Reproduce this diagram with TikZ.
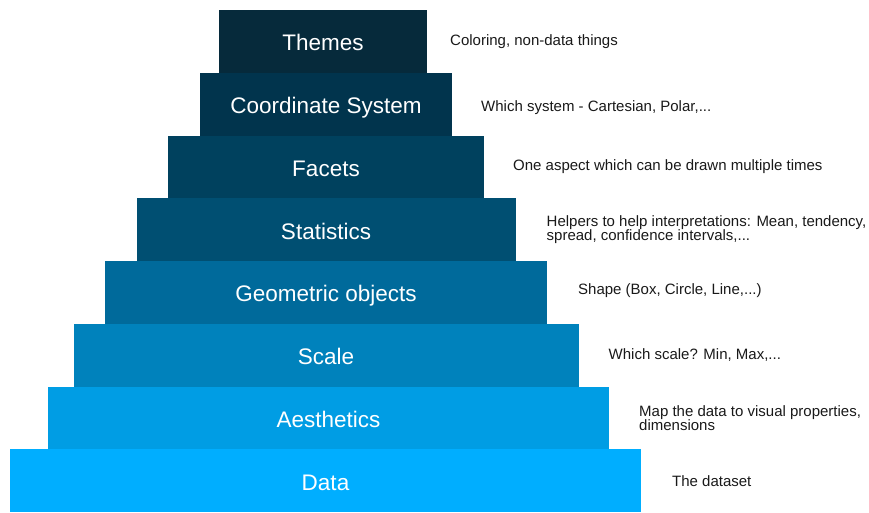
\documentclass[tikz,border=0pt]{standalone}
\usepackage{fontspec}
\setmainfont{Liberation Sans}
\usetikzlibrary{positioning}
\definecolor{themesblue}{HTML}{062A3B}
\definecolor{coordblue}{HTML}{01344D}
\definecolor{facetblue}{HTML}{00415E}
\definecolor{statblue}{HTML}{004F72}
\definecolor{geomblue}{HTML}{006A9B}
\definecolor{scaleblue}{HTML}{0082BC}
\definecolor{aesblue}{HTML}{009DE4}
\definecolor{datablue}{HTML}{00AEFF}
\tikzset{node distance=0pt,
  layer/.style={fill=#1, text=white, inner sep=0pt, outer sep=0pt,
    minimum height=62.75pt, text height=19pt, text depth=0pt,
    font=\fontsize{22.5}{27}\selectfont},
  note/.style={text=black!90, inner sep=0pt, align=left,
    font=\fontsize{15}{14.5}\selectfont}}

\begin{document}
\begin{tikzpicture}
\useasboundingbox (0,0) rectangle (869pt,-512pt);
% the layers, top to bottom
\node (themes) [layer=themesblue, minimum width=208pt] at (323pt,-41.4pt) {Themes};
\node (coord) [layer=coordblue, minimum width=252pt, below=of themes, xshift=3pt] {Coordinate System};
\node (facets) [layer=facetblue, minimum width=316pt, below=of coord] {Facets};
\node (stats) [layer=statblue, minimum width=379pt, below=of facets] {Statistics};
\node (geoms) [layer=geomblue, minimum width=442pt, below=of stats] {Geometric objects};
\node (scale) [layer=scaleblue, minimum width=505pt, below=of geoms] {Scale};
\node (aes) [layer=aesblue, minimum width=561pt, below=of scale, xshift=2.5pt] {Aesthetics};
\node (data) [layer=datablue, minimum width=631pt, below=of aes, xshift=-3pt] {Data};
% notes on the right
\node (themesnote) [note, right=23pt of themes] {Coloring, non-data things};
\node (coordnote) [note, right=29pt of coord, yshift=-3pt] {Which system - Cartesian, Polar,...};
\node (facetsnote) [note, right=29pt of facets] {One aspect which can be drawn multiple times};
\node (statsnote) [note, right=31pt of stats] {Helpers to help interpretations: Mean, tendency,\\spread, confidence intervals,...};
\node (geomsnote) [note, right=31pt of geoms, yshift=2pt] {Shape (Box, Circle, Line,...)};
\node (scalenote) [note, right=30pt of scale] {Which scale? Min, Max,...};
\node (aesnote) [note, right=30pt of aes] {Map the data to visual properties,\\dimensions};
\node (datanote) [note, right=31pt of data] {The dataset};
\end{tikzpicture}
\end{document}
